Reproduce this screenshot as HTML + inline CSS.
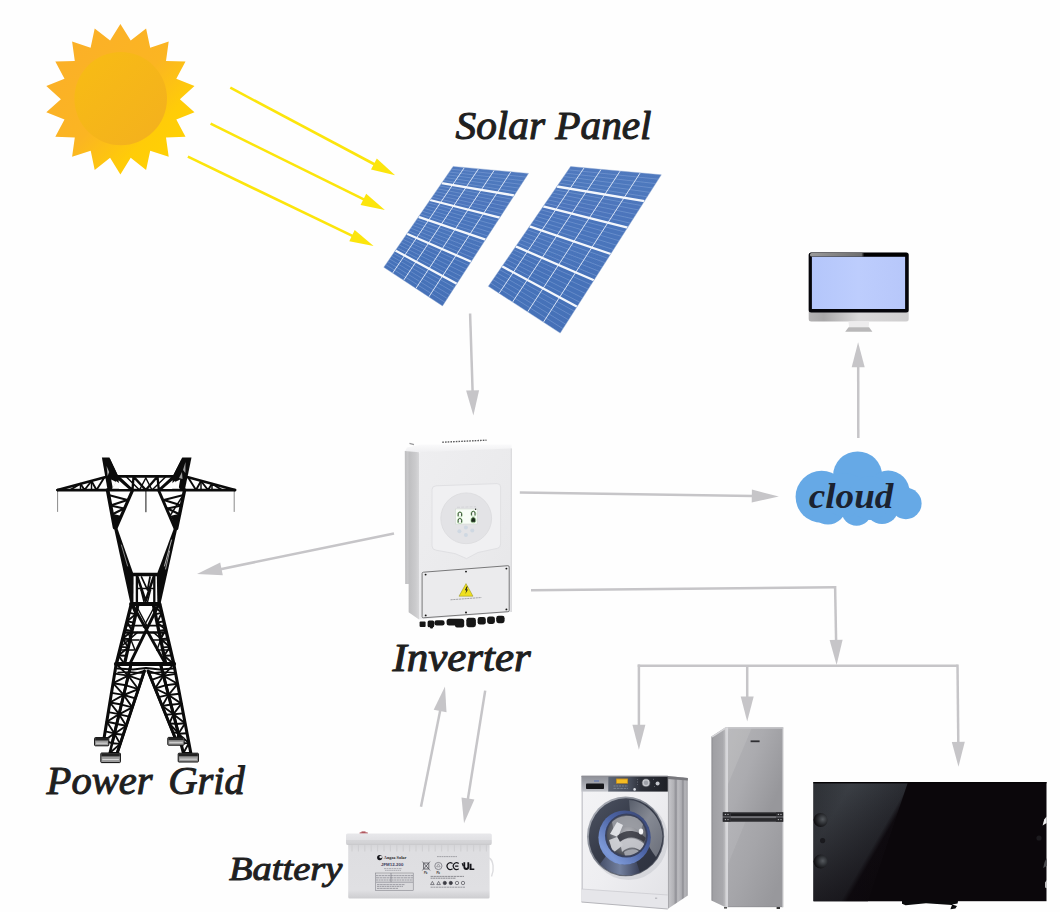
<!DOCTYPE html>
<html><head><meta charset="utf-8"><title>Solar system diagram</title>
<style>
html,body{margin:0;padding:0;background:#fefefe;}
body{width:1060px;height:912px;overflow:hidden;font-family:"Liberation Serif",serif;}
svg{display:block;}
</style></head><body>
<svg width="1060" height="912" viewBox="0 0 1060 912">
<rect width="1060" height="912" fill="#fefefe"/>
<!-- sun -->

<defs>
<linearGradient id="sunG" x1="0" y1="0" x2="1" y2="1">
<stop offset="0" stop-color="#FBAE2A"/><stop offset="0.5" stop-color="#FBB522"/><stop offset="0.72" stop-color="#FFCC08"/><stop offset="1" stop-color="#FFD500"/>
</linearGradient>
<linearGradient id="sunC" x1="0" y1="0" x2="1" y2="1">
<stop offset="0" stop-color="#F8BC14"/><stop offset="1" stop-color="#F3B01E"/>
</linearGradient>
</defs>
<path d="M120.4,24.0 L130.7,40.6 L146.1,28.5 L150.2,47.7 L168.7,41.6 L166.0,61.0 L185.5,61.6 L176.3,78.8 L194.5,86.1 L179.9,99.2 L194.5,112.3 L176.3,119.6 L185.5,136.8 L166.0,137.4 L168.7,156.8 L150.2,150.7 L146.1,169.9 L130.7,157.8 L120.4,174.4 L110.1,157.8 L94.7,169.9 L90.7,150.7 L72.1,156.8 L74.8,137.4 L55.3,136.8 L64.5,119.6 L46.3,112.3 L60.9,99.2 L46.3,86.1 L64.5,78.8 L55.3,61.6 L74.8,61.0 L72.1,41.6 L90.6,47.7 L94.7,28.5 L110.1,40.6Z" fill="url(#sunG)"/>
<ellipse cx="120.7" cy="98.60000000000001" rx="46.3" ry="46.6" fill="url(#sunC)"/>
<!-- yellow_arrows -->
<line x1="230.3" y1="87.7" x2="374.8" y2="164.5" stroke="#FCE50C" stroke-width="2.6"/><polygon points="395.1,175.3 371.0,169.6 376.8,158.5" fill="#FCE50C"/>
<line x1="210.6" y1="123.7" x2="364.3" y2="199.7" stroke="#FCE50C" stroke-width="2.6"/><polygon points="384.9,209.9 360.6,204.9 366.2,193.7" fill="#FCE50C"/>
<line x1="187.9" y1="156.7" x2="352.9" y2="236.1" stroke="#FCE50C" stroke-width="2.6"/><polygon points="373.6,246.1 349.3,241.3 354.7,230.1" fill="#FCE50C"/>
<!-- panels -->
<defs><clipPath id="clip1"><polygon points="453.1,166.4 528.5,173.4 442.5,305.9 383.8,267.3"/></clipPath><linearGradient id="pg1" gradientUnits="userSpaceOnUse" x1="453" y1="166" x2="442" y2="306"><stop offset="0" stop-color="#5079BE"/><stop offset="0.5" stop-color="#4A75BB"/><stop offset="1" stop-color="#4771B7"/></linearGradient></defs><polygon points="453.1,166.4 528.5,173.4 442.5,305.9 383.8,267.3" fill="url(#pg1)"/><g clip-path="url(#clip1)"><line x1="451.2" y1="169.2" x2="526.1" y2="177.1" stroke="#86A6DA" stroke-width="0.7" opacity="0.7"/><line x1="449.2" y1="172.0" x2="523.7" y2="180.8" stroke="#86A6DA" stroke-width="0.7" opacity="0.7"/><line x1="447.3" y1="174.8" x2="521.3" y2="184.4" stroke="#86A6DA" stroke-width="0.7" opacity="0.7"/><line x1="445.4" y1="177.6" x2="518.9" y2="188.1" stroke="#86A6DA" stroke-width="0.7" opacity="0.7"/><line x1="443.5" y1="180.4" x2="516.6" y2="191.8" stroke="#86A6DA" stroke-width="0.7" opacity="0.7"/><line x1="439.6" y1="186.0" x2="511.8" y2="199.2" stroke="#86A6DA" stroke-width="0.7" opacity="0.7"/><line x1="437.7" y1="188.8" x2="509.4" y2="202.8" stroke="#86A6DA" stroke-width="0.7" opacity="0.7"/><line x1="435.8" y1="191.6" x2="507.0" y2="206.5" stroke="#86A6DA" stroke-width="0.7" opacity="0.7"/><line x1="433.9" y1="194.4" x2="504.6" y2="210.2" stroke="#86A6DA" stroke-width="0.7" opacity="0.7"/><line x1="431.9" y1="197.2" x2="502.2" y2="213.9" stroke="#86A6DA" stroke-width="0.7" opacity="0.7"/><line x1="428.1" y1="202.8" x2="497.4" y2="221.2" stroke="#86A6DA" stroke-width="0.7" opacity="0.7"/><line x1="426.2" y1="205.6" x2="495.1" y2="224.9" stroke="#86A6DA" stroke-width="0.7" opacity="0.7"/><line x1="424.2" y1="208.4" x2="492.7" y2="228.6" stroke="#86A6DA" stroke-width="0.7" opacity="0.7"/><line x1="422.3" y1="211.2" x2="490.3" y2="232.3" stroke="#86A6DA" stroke-width="0.7" opacity="0.7"/><line x1="420.4" y1="214.0" x2="487.9" y2="236.0" stroke="#86A6DA" stroke-width="0.7" opacity="0.7"/><line x1="416.5" y1="219.7" x2="483.1" y2="243.3" stroke="#86A6DA" stroke-width="0.7" opacity="0.7"/><line x1="414.6" y1="222.5" x2="480.7" y2="247.0" stroke="#86A6DA" stroke-width="0.7" opacity="0.7"/><line x1="412.7" y1="225.3" x2="478.3" y2="250.7" stroke="#86A6DA" stroke-width="0.7" opacity="0.7"/><line x1="410.8" y1="228.1" x2="475.9" y2="254.4" stroke="#86A6DA" stroke-width="0.7" opacity="0.7"/><line x1="408.8" y1="230.9" x2="473.6" y2="258.1" stroke="#86A6DA" stroke-width="0.7" opacity="0.7"/><line x1="405.0" y1="236.5" x2="468.8" y2="265.4" stroke="#86A6DA" stroke-width="0.7" opacity="0.7"/><line x1="403.1" y1="239.3" x2="466.4" y2="269.1" stroke="#86A6DA" stroke-width="0.7" opacity="0.7"/><line x1="401.1" y1="242.1" x2="464.0" y2="272.8" stroke="#86A6DA" stroke-width="0.7" opacity="0.7"/><line x1="399.2" y1="244.9" x2="461.6" y2="276.5" stroke="#86A6DA" stroke-width="0.7" opacity="0.7"/><line x1="397.3" y1="247.7" x2="459.2" y2="280.1" stroke="#86A6DA" stroke-width="0.7" opacity="0.7"/><line x1="393.4" y1="253.3" x2="454.4" y2="287.5" stroke="#86A6DA" stroke-width="0.7" opacity="0.7"/><line x1="391.5" y1="256.1" x2="452.1" y2="291.2" stroke="#86A6DA" stroke-width="0.7" opacity="0.7"/><line x1="389.6" y1="258.9" x2="449.7" y2="294.9" stroke="#86A6DA" stroke-width="0.7" opacity="0.7"/><line x1="387.7" y1="261.7" x2="447.3" y2="298.5" stroke="#86A6DA" stroke-width="0.7" opacity="0.7"/><line x1="385.7" y1="264.5" x2="444.9" y2="302.2" stroke="#86A6DA" stroke-width="0.7" opacity="0.7"/><line x1="464.4" y1="167.5" x2="392.6" y2="273.1" stroke="#E6EEFA" stroke-width="0.9"/><line x1="478.5" y1="168.8" x2="403.6" y2="280.3" stroke="#E6EEFA" stroke-width="0.9"/><line x1="494.3" y1="170.2" x2="415.9" y2="288.4" stroke="#E6EEFA" stroke-width="0.9"/><line x1="510.9" y1="171.8" x2="428.8" y2="296.9" stroke="#E6EEFA" stroke-width="0.9"/><line x1="441.6" y1="183.2" x2="514.2" y2="195.5" stroke="#F4F7FC" stroke-width="2.3"/><line x1="430.0" y1="200.0" x2="499.8" y2="217.6" stroke="#F4F7FC" stroke-width="2.3"/><line x1="418.5" y1="216.9" x2="485.5" y2="239.6" stroke="#F4F7FC" stroke-width="2.3"/><line x1="406.9" y1="233.7" x2="471.2" y2="261.7" stroke="#F4F7FC" stroke-width="2.3"/><line x1="395.4" y1="250.5" x2="456.8" y2="283.8" stroke="#F4F7FC" stroke-width="2.3"/></g><polygon points="453.1,166.4 528.5,173.4 442.5,305.9 383.8,267.3" fill="none" stroke="#8FA9D4" stroke-width="0.6" opacity="0.7"/>
<defs><clipPath id="clip2"><polygon points="570.6,166.5 661.3,174.8 560.2,333.1 488.3,286.3"/></clipPath><linearGradient id="pg2" gradientUnits="userSpaceOnUse" x1="571" y1="166" x2="560" y2="333"><stop offset="0" stop-color="#5079BE"/><stop offset="0.5" stop-color="#4A75BB"/><stop offset="1" stop-color="#4771B7"/></linearGradient></defs><polygon points="570.6,166.5 661.3,174.8 560.2,333.1 488.3,286.3" fill="url(#pg2)"/><g clip-path="url(#clip2)"><line x1="568.3" y1="169.8" x2="658.5" y2="179.2" stroke="#86A6DA" stroke-width="0.7" opacity="0.7"/><line x1="566.0" y1="173.2" x2="655.7" y2="183.6" stroke="#86A6DA" stroke-width="0.7" opacity="0.7"/><line x1="563.7" y1="176.5" x2="652.9" y2="188.0" stroke="#86A6DA" stroke-width="0.7" opacity="0.7"/><line x1="561.5" y1="179.8" x2="650.1" y2="192.4" stroke="#86A6DA" stroke-width="0.7" opacity="0.7"/><line x1="559.2" y1="183.1" x2="647.3" y2="196.8" stroke="#86A6DA" stroke-width="0.7" opacity="0.7"/><line x1="554.6" y1="189.8" x2="641.6" y2="205.6" stroke="#86A6DA" stroke-width="0.7" opacity="0.7"/><line x1="552.3" y1="193.1" x2="638.8" y2="210.0" stroke="#86A6DA" stroke-width="0.7" opacity="0.7"/><line x1="550.0" y1="196.4" x2="636.0" y2="214.4" stroke="#86A6DA" stroke-width="0.7" opacity="0.7"/><line x1="547.7" y1="199.8" x2="633.2" y2="218.8" stroke="#86A6DA" stroke-width="0.7" opacity="0.7"/><line x1="545.5" y1="203.1" x2="630.4" y2="223.2" stroke="#86A6DA" stroke-width="0.7" opacity="0.7"/><line x1="540.9" y1="209.8" x2="624.8" y2="232.0" stroke="#86A6DA" stroke-width="0.7" opacity="0.7"/><line x1="538.6" y1="213.1" x2="622.0" y2="236.4" stroke="#86A6DA" stroke-width="0.7" opacity="0.7"/><line x1="536.3" y1="216.4" x2="619.2" y2="240.8" stroke="#86A6DA" stroke-width="0.7" opacity="0.7"/><line x1="534.0" y1="219.7" x2="616.4" y2="245.2" stroke="#86A6DA" stroke-width="0.7" opacity="0.7"/><line x1="531.7" y1="223.1" x2="613.6" y2="249.6" stroke="#86A6DA" stroke-width="0.7" opacity="0.7"/><line x1="527.2" y1="229.7" x2="607.9" y2="258.3" stroke="#86A6DA" stroke-width="0.7" opacity="0.7"/><line x1="524.9" y1="233.1" x2="605.1" y2="262.7" stroke="#86A6DA" stroke-width="0.7" opacity="0.7"/><line x1="522.6" y1="236.4" x2="602.3" y2="267.1" stroke="#86A6DA" stroke-width="0.7" opacity="0.7"/><line x1="520.3" y1="239.7" x2="599.5" y2="271.5" stroke="#86A6DA" stroke-width="0.7" opacity="0.7"/><line x1="518.0" y1="243.0" x2="596.7" y2="275.9" stroke="#86A6DA" stroke-width="0.7" opacity="0.7"/><line x1="513.4" y1="249.7" x2="591.1" y2="284.7" stroke="#86A6DA" stroke-width="0.7" opacity="0.7"/><line x1="511.2" y1="253.0" x2="588.3" y2="289.1" stroke="#86A6DA" stroke-width="0.7" opacity="0.7"/><line x1="508.9" y1="256.4" x2="585.5" y2="293.5" stroke="#86A6DA" stroke-width="0.7" opacity="0.7"/><line x1="506.6" y1="259.7" x2="582.7" y2="297.9" stroke="#86A6DA" stroke-width="0.7" opacity="0.7"/><line x1="504.3" y1="263.0" x2="579.9" y2="302.3" stroke="#86A6DA" stroke-width="0.7" opacity="0.7"/><line x1="499.7" y1="269.7" x2="574.2" y2="311.1" stroke="#86A6DA" stroke-width="0.7" opacity="0.7"/><line x1="497.4" y1="273.0" x2="571.4" y2="315.5" stroke="#86A6DA" stroke-width="0.7" opacity="0.7"/><line x1="495.2" y1="276.3" x2="568.6" y2="319.9" stroke="#86A6DA" stroke-width="0.7" opacity="0.7"/><line x1="492.9" y1="279.6" x2="565.8" y2="324.3" stroke="#86A6DA" stroke-width="0.7" opacity="0.7"/><line x1="490.6" y1="283.0" x2="563.0" y2="328.7" stroke="#86A6DA" stroke-width="0.7" opacity="0.7"/><line x1="584.2" y1="167.7" x2="499.1" y2="293.3" stroke="#E6EEFA" stroke-width="0.9"/><line x1="601.2" y1="169.3" x2="512.5" y2="302.1" stroke="#E6EEFA" stroke-width="0.9"/><line x1="620.2" y1="171.0" x2="527.6" y2="311.9" stroke="#E6EEFA" stroke-width="0.9"/><line x1="640.2" y1="172.9" x2="543.4" y2="322.2" stroke="#E6EEFA" stroke-width="0.9"/><line x1="556.9" y1="186.5" x2="644.4" y2="201.2" stroke="#F4F7FC" stroke-width="2.3"/><line x1="543.2" y1="206.4" x2="627.6" y2="227.6" stroke="#F4F7FC" stroke-width="2.3"/><line x1="529.5" y1="226.4" x2="610.8" y2="254.0" stroke="#F4F7FC" stroke-width="2.3"/><line x1="515.7" y1="246.4" x2="593.9" y2="280.3" stroke="#F4F7FC" stroke-width="2.3"/><line x1="502.0" y1="266.3" x2="577.1" y2="306.7" stroke="#F4F7FC" stroke-width="2.3"/></g><polygon points="570.6,166.5 661.3,174.8 560.2,333.1 488.3,286.3" fill="none" stroke="#8FA9D4" stroke-width="0.6" opacity="0.7"/>
<!-- gray_arrows -->
<line x1="470.1" y1="313.5" x2="472.6" y2="391.4" stroke="#C6C5C8" stroke-width="2.5"/><polygon points="473.4,415.4 466.1,390.6 479.1,390.2" fill="#C6C5C8"/>
<line x1="519.8" y1="492.5" x2="752.8" y2="496.1" stroke="#C6C5C8" stroke-width="2.5"/><polygon points="778.8,496.5 751.7,502.6 751.9,489.6" fill="#C6C5C8"/>
<line x1="394.0" y1="533.5" x2="220.5" y2="569.2" stroke="#C6C5C8" stroke-width="2.5"/><polygon points="197.0,574.0 220.2,562.6 222.8,575.3" fill="#C6C5C8"/>
<line x1="858.3" y1="438.0" x2="858.2" y2="366.3" stroke="#C6C5C8" stroke-width="2.5"/><polygon points="858.1,342.3 864.7,367.3 851.7,367.3" fill="#C6C5C8"/>
<line x1="421.0" y1="806.7" x2="440.3" y2="710.0" stroke="#C6C5C8" stroke-width="2.5"/><polygon points="445.0,686.5 446.5,712.3 433.7,709.7" fill="#C6C5C8"/>
<line x1="485.2" y1="690.6" x2="467.8" y2="799.6" stroke="#C6C5C8" stroke-width="2.5"/><polygon points="464.0,823.3 461.5,797.6 474.4,799.6" fill="#C6C5C8"/>
<polyline points="531,590.2 835.1,587.2" fill="none" stroke="#C6C5C8" stroke-width="2.5"/><line x1="835.1" y1="586.0" x2="836.1" y2="640.9" stroke="#C6C5C8" stroke-width="2.5"/><polygon points="836.6,664.9 829.6,640.0 842.6,639.8" fill="#C6C5C8"/>
<polyline points="637.7,665.7 957.6,665.7" fill="none" stroke="#C6C5C8" stroke-width="2.6"/><line x1="638.9" y1="664.5" x2="638.9" y2="725.8" stroke="#C6C5C8" stroke-width="2.5"/><polygon points="638.9,749.8 632.4,724.8 645.4,724.8" fill="#C6C5C8"/>
<line x1="747.2" y1="665.0" x2="747.2" y2="697.5" stroke="#C6C5C8" stroke-width="2.5"/><polygon points="747.2,721.5 740.7,696.5 753.7,696.5" fill="#C6C5C8"/>
<line x1="957.5" y1="664.5" x2="958.3" y2="742.8" stroke="#C6C5C8" stroke-width="2.5"/><polygon points="958.5,766.8 951.8,741.9 964.8,741.7" fill="#C6C5C8"/>
<!-- inverter -->

<defs>
<linearGradient id="invSide" x1="0" y1="0" x2="1" y2="0">
<stop offset="0" stop-color="#BDBDBF"/><stop offset="0.22" stop-color="#C9C9CB"/><stop offset="0.3" stop-color="#BFBFC1"/><stop offset="0.75" stop-color="#CBCBCD"/><stop offset="1" stop-color="#D6D6D8"/>
</linearGradient>
<linearGradient id="invFront" x1="0" y1="0" x2="1" y2="1">
<stop offset="0" stop-color="#EEEEF0"/><stop offset="0.6" stop-color="#EAEAEC"/><stop offset="1" stop-color="#E6E6E8"/>
</linearGradient>
<linearGradient id="invTop" x1="0" y1="0" x2="0" y2="1">
<stop offset="0" stop-color="#FAFAFB"/><stop offset="1" stop-color="#EFEFF1"/>
</linearGradient>
</defs>
<!-- top face hint -->
<polygon points="407,447.5 421,444.6 511.6,444.4 511.6,449 419,452.4 405,451.3" fill="url(#invTop)"/>
<!-- vent dots on top -->
<line x1="442.3" y1="442.2" x2="486.5" y2="440.2" stroke="#59595b" stroke-width="1.4" stroke-dasharray="1.6 1.1"/>
<line x1="409.5" y1="443.4" x2="414" y2="444.6" stroke="#9a9a9c" stroke-width="1.2"/>
<!-- left side -->
<polygon points="404.8,451 419,452.2 419,619.5 408.6,612.3 408.6,584 405.2,584" fill="url(#invSide)"/>
<!-- front -->
<path d="M419,453.5 Q419,452 421,451.9 L511.6,448.4 L511.6,612 L419,619.5 Z" fill="url(#invFront)"/>
<!-- right soft edge -->
<line x1="511.3" y1="448.6" x2="511.3" y2="612" stroke="#DADADC" stroke-width="1.2"/>
<!-- shield shape -->
<path d="M436,485.8 L497,483.6 Q500.6,483.6 500.6,487 L500.6,544 Q500.6,547.5 497.5,548.3 L478,552.5 L466.5,558.6 L455,553.6 L436,550.2 Q432,549.6 432,546 L432,489.6 Q432,486 436,485.8 Z" fill="#F0F0F2" stroke="#E0E0E3" stroke-width="1"/>
<!-- display circle -->
<circle cx="466.2" cy="518.3" r="25.4" fill="#E3E3E6" stroke="#DADADD" stroke-width="0.8"/>
<rect x="455.7" y="509" width="21.5" height="15" fill="#F7FCF6" stroke="#CDD6CD" stroke-width="0.5"/>
<g fill="none" stroke="#1d2b1d" stroke-width="0.9">
<path d="M458.2,516.2 v-2.4 a1.7,1.7 0 0 1 3.4,0 v2.4"/>
<path d="M458.2,522.6 v-2.4 a1.7,1.7 0 0 1 3.4,0 v2.4"/>
<path d="M471.6,515.4 v-2.4 a1.7,1.7 0 0 1 3.4,0 v2.4"/>
<path d="M471.6,521.8 v-2.4 a1.7,1.7 0 0 1 3.4,0 v2.4 z" fill="#1d2b1d"/>
</g>
<g fill="none" stroke="#6DBB5C" stroke-width="0.5" opacity="0.8">
<circle cx="459.9" cy="514.6" r="2.6"/><circle cx="459.9" cy="521" r="2.6"/><circle cx="473.3" cy="513.8" r="2.6"/><circle cx="473.3" cy="520.2" r="2.6"/>
</g>
<circle cx="475.6" cy="509.3" r="0.7" fill="#222"/>
<line x1="457" y1="507.3" x2="476" y2="506.7" stroke="#CFCFD3" stroke-width="0.8" stroke-dasharray="3 1.2"/>
<g fill="#CFD8E2">
<circle cx="459.4" cy="531.2" r="2"/><circle cx="465.9" cy="527.6" r="2"/><circle cx="472.3" cy="530.6" r="2"/><circle cx="465.9" cy="534.9" r="2"/>
</g>
<!-- lower cover -->
<path d="M423.4,572.2 L507.8,565.7 Q509.2,565.6 509.2,567 L509.2,610.4 Q509.2,611.6 507.9,611.7 L423.4,617.8 Q422.1,617.9 422.1,616.6 L422.1,573.5 Q422.1,572.3 423.4,572.2 Z" fill="#EBEBED" stroke="#5a5a5c" stroke-width="0.8"/>
<g fill="#111">
<circle cx="425.6" cy="574.6" r="0.95"/><circle cx="466" cy="571.6" r="0.95"/><circle cx="506.4" cy="568.6" r="0.95"/>
<circle cx="425.7" cy="615.4" r="0.95"/><circle cx="466" cy="612.5" r="0.95"/><circle cx="506.4" cy="609.4" r="0.95"/>
</g>
<!-- warning triangle -->
<polygon points="466,583.6 473,596.2 459,596.2" fill="#EFE01E" stroke="#8f8a20" stroke-width="0.5" stroke-linejoin="round"/>
<path d="M466.6,586.6 l-1.7,3.6 h1.5 l-1.1,3.9 l2.7,-4.7 h-1.5 l1.2,-2.8 z" fill="#1a1a1a"/>
<line x1="450.5" y1="599.8" x2="481.5" y2="597.5" stroke="#9c9c9f" stroke-width="0.9" stroke-dasharray="2.2 0.6"/>
<!-- connectors -->
<g fill="#161616">
<rect x="419.6" y="621.4" width="6" height="5.6" rx="1"/>
<rect x="427.6" y="620.6" width="6.6" height="6.6" rx="1.5"/>
<rect x="430" y="625" width="3" height="3.4" rx="1"/>
<rect x="434.4" y="620.2" width="10.2" height="5.4" rx="2.3"/>
<rect x="446.6" y="618.8" width="17.6" height="6.8" rx="2.5"/>
<rect x="455" y="622" width="9.2" height="5.4" rx="2"/>
<rect x="466.3" y="617.8" width="9.6" height="9.4" rx="2.4"/>
<rect x="477.6" y="617" width="8.2" height="7.6" rx="2.4"/>
<rect x="487.1" y="616.4" width="7.8" height="7.6" rx="2.4"/>
<rect x="496.2" y="615.8" width="8.4" height="7.4" rx="2.4"/>
</g>
<!-- tower -->
<g><line x1="57.6" y1="490.0" x2="57.6" y2="511.5" stroke="#8a8a8a" stroke-width="1.00" stroke-linecap="round"/><line x1="145.9" y1="490.0" x2="145.9" y2="511.8" stroke="#2a2a2a" stroke-width="1.10" stroke-linecap="round"/><line x1="234.2" y1="490.0" x2="234.2" y2="511.5" stroke="#8a8a8a" stroke-width="1.00" stroke-linecap="round"/><line x1="57.5" y1="490.0" x2="235.0" y2="490.0" stroke="#0b0b0b" stroke-width="2.75" stroke-linecap="round"/><line x1="57.5" y1="490.0" x2="105.8" y2="477.0" stroke="#0b0b0b" stroke-width="2.46" stroke-linecap="round"/><polyline points="70.0,490.0 80.5,483.8 84.5,490.0 91.5,481.0 96.5,490.0 104.0,478.0" fill="none" stroke="#0b0b0b" stroke-width="1.89" stroke-linejoin="round" stroke-linecap="round"/><line x1="80.5" y1="483.8" x2="80.5" y2="490.0" stroke="#0b0b0b" stroke-width="1.45" stroke-linecap="round"/><line x1="91.5" y1="481.0" x2="91.5" y2="490.0" stroke="#0b0b0b" stroke-width="1.45" stroke-linecap="round"/><line x1="235.0" y1="490.0" x2="187.2" y2="477.0" stroke="#0b0b0b" stroke-width="2.46" stroke-linecap="round"/><polyline points="222.0,490.0 212.0,483.8 208.0,490.0 201.0,481.0 196.0,490.0 188.5,478.0" fill="none" stroke="#0b0b0b" stroke-width="1.89" stroke-linejoin="round" stroke-linecap="round"/><line x1="212.0" y1="483.8" x2="212.0" y2="490.0" stroke="#0b0b0b" stroke-width="1.45" stroke-linecap="round"/><line x1="201.0" y1="481.0" x2="201.0" y2="490.0" stroke="#0b0b0b" stroke-width="1.45" stroke-linecap="round"/><line x1="116.0" y1="476.4" x2="175.0" y2="476.4" stroke="#0b0b0b" stroke-width="2.90" stroke-linecap="round"/><polyline points="118.0,476.6 132.5,490.0 133.5,476.6 145.8,490.0 157.5,476.6 158.8,490.0 173.5,476.6" fill="none" stroke="#0b0b0b" stroke-width="2.32" stroke-linejoin="round" stroke-linecap="round"/><polyline points="126.0,476.6 139.5,490.0 145.8,478.0" fill="none" stroke="#0b0b0b" stroke-width="1.45" stroke-linejoin="round" stroke-linecap="round"/><polyline points="145.8,478.0 152.0,490.0 166.0,476.6" fill="none" stroke="#0b0b0b" stroke-width="1.45" stroke-linejoin="round" stroke-linecap="round"/><polygon points="101.9,457.6 109.4,457.6 118.6,477 111.5,490 107.6,490" fill="#0b0b0b"/><polygon points="109.4,457.6 118.6,477 132.8,490.4 128,490.4 115,480" fill="#0b0b0b"/><polygon points="111.2,479.5 116.2,482 112.8,488.6" fill="#fefefe"/><polygon points="118.6,480.2 128.6,489 119,489" fill="#fefefe"/><polygon points="106.6,466 109.2,472 107.6,476" fill="#fefefe" opacity="0.7"/><polyline points="107.6,490.0 114.6,527.5" fill="none" stroke="#0b0b0b" stroke-width="3.77" stroke-linejoin="round" stroke-linecap="round"/><polyline points="132.6,490.2 116.2,527.5" fill="none" stroke="#0b0b0b" stroke-width="3.19" stroke-linejoin="round" stroke-linecap="round"/><line x1="108.5" y1="495.0" x2="127.5" y2="500.0" stroke="#0b0b0b" stroke-width="2.03" stroke-linecap="round"/><line x1="127.5" y1="500.0" x2="110.5" y2="505.5" stroke="#0b0b0b" stroke-width="2.32" stroke-linecap="round"/><line x1="110.5" y1="505.5" x2="124.0" y2="508.5" stroke="#0b0b0b" stroke-width="1.89" stroke-linecap="round"/><line x1="124.0" y1="508.5" x2="112.0" y2="514.5" stroke="#0b0b0b" stroke-width="2.17" stroke-linecap="round"/><line x1="112.0" y1="514.5" x2="120.5" y2="516.5" stroke="#0b0b0b" stroke-width="1.74" stroke-linecap="round"/><polygon points="112.6,515 120.6,516.6 115.4,528 114.2,527" fill="#0b0b0b"/><polygon points="191.5,457.6 182.3,457.6 172.4,477 180.5,490 184.8,490" fill="#0b0b0b"/><polygon points="182.3,457.6 172.4,477 158.4,490.4 163.4,490.4 176,480" fill="#0b0b0b"/><polygon points="180.2,479.5 175,482 178.6,488.6" fill="#fefefe"/><polygon points="172.6,480.2 162.6,489 172.2,489" fill="#fefefe"/><polygon points="185.5,462 183,470 185.4,473" fill="#fefefe" opacity="0.6"/><polygon points="182,472 179,478 182.5,479" fill="#fefefe" opacity="0.6"/><polyline points="184.6,490.0 176.6,528.5" fill="none" stroke="#0b0b0b" stroke-width="3.48" stroke-linejoin="round" stroke-linecap="round"/><polyline points="158.6,490.2 175.0,528.5" fill="none" stroke="#0b0b0b" stroke-width="2.90" stroke-linejoin="round" stroke-linecap="round"/><line x1="183.6" y1="495.0" x2="163.8" y2="500.0" stroke="#0b0b0b" stroke-width="2.03" stroke-linecap="round"/><line x1="163.8" y1="500.0" x2="181.6" y2="505.5" stroke="#0b0b0b" stroke-width="2.32" stroke-linecap="round"/><line x1="181.6" y1="505.5" x2="167.5" y2="508.5" stroke="#0b0b0b" stroke-width="1.89" stroke-linecap="round"/><line x1="167.5" y1="508.5" x2="180.0" y2="514.5" stroke="#0b0b0b" stroke-width="2.17" stroke-linecap="round"/><line x1="180.0" y1="514.5" x2="171.0" y2="516.5" stroke="#0b0b0b" stroke-width="1.74" stroke-linecap="round"/><line x1="182.0" y1="497.0" x2="170.5" y2="515.0" stroke="#0b0b0b" stroke-width="1.45" stroke-linecap="round"/><polygon points="179.4,515 171.2,516.6 175.6,529 177,528" fill="#0b0b0b"/><polygon points="113.6,526 116.6,526 133.6,574.4 133.4,604.2 130.6,604.2" fill="#0b0b0b"/><polygon points="177.6,527 174.4,527 156.8,574.4 157.4,604.2 160.4,604.2" fill="#0b0b0b"/><line x1="171.5" y1="540.0" x2="164.5" y2="566.0" stroke="#fefefe" stroke-width="0.70" stroke-linecap="round"/><line x1="169.6" y1="551.0" x2="165.6" y2="569.0" stroke="#fefefe" stroke-width="0.60" stroke-linecap="round"/><line x1="121.4" y1="545.0" x2="127.6" y2="566.0" stroke="#fefefe" stroke-width="0.50" stroke-linecap="round"/><line x1="132.8" y1="574.6" x2="157.4" y2="574.6" stroke="#0b0b0b" stroke-width="3.48" stroke-linecap="round"/><line x1="131.0" y1="604.0" x2="159.4" y2="604.0" stroke="#0b0b0b" stroke-width="3.77" stroke-linecap="round"/><line x1="136.9" y1="575.0" x2="136.9" y2="604.0" stroke="#0b0b0b" stroke-width="2.32" stroke-linecap="round"/><line x1="154.3" y1="575.0" x2="154.3" y2="604.0" stroke="#0b0b0b" stroke-width="2.32" stroke-linecap="round"/><polyline points="137.5,577.0 145.6,601.0 153.6,577.0" fill="none" stroke="#0b0b0b" stroke-width="2.46" stroke-linejoin="round" stroke-linecap="round"/><polyline points="141.5,577.0 147.5,590.0 150.0,577.0" fill="none" stroke="#0b0b0b" stroke-width="1.74" stroke-linejoin="round" stroke-linecap="round"/><line x1="138.0" y1="588.5" x2="153.5" y2="588.5" stroke="#0b0b0b" stroke-width="1.74" stroke-linecap="round"/><line x1="141.0" y1="590.0" x2="144.0" y2="602.0" stroke="#0b0b0b" stroke-width="1.45" stroke-linecap="round"/><line x1="150.5" y1="590.0" x2="147.5" y2="602.0" stroke="#0b0b0b" stroke-width="1.45" stroke-linecap="round"/><polyline points="131.3,604.2 116.3,664.0" fill="none" stroke="#0b0b0b" stroke-width="3.33" stroke-linejoin="round" stroke-linecap="round"/><polyline points="137.6,606.0 124.5,664.0" fill="none" stroke="#0b0b0b" stroke-width="3.33" stroke-linejoin="round" stroke-linecap="round"/><line x1="131.3" y1="604.2" x2="135.7" y2="614.3" stroke="#0b0b0b" stroke-width="1.89" stroke-linecap="round"/><line x1="129.2" y1="612.7" x2="135.7" y2="614.3" stroke="#0b0b0b" stroke-width="1.89" stroke-linecap="round"/><line x1="135.7" y1="614.3" x2="127.0" y2="621.3" stroke="#0b0b0b" stroke-width="1.89" stroke-linecap="round"/><line x1="127.0" y1="621.3" x2="133.9" y2="622.6" stroke="#0b0b0b" stroke-width="1.89" stroke-linecap="round"/><line x1="127.0" y1="621.3" x2="132.0" y2="630.9" stroke="#0b0b0b" stroke-width="1.89" stroke-linecap="round"/><line x1="124.9" y1="629.8" x2="132.0" y2="630.9" stroke="#0b0b0b" stroke-width="1.89" stroke-linecap="round"/><line x1="132.0" y1="630.9" x2="122.7" y2="638.4" stroke="#0b0b0b" stroke-width="1.89" stroke-linecap="round"/><line x1="122.7" y1="638.4" x2="130.1" y2="639.1" stroke="#0b0b0b" stroke-width="1.89" stroke-linecap="round"/><line x1="122.7" y1="638.4" x2="128.2" y2="647.4" stroke="#0b0b0b" stroke-width="1.89" stroke-linecap="round"/><line x1="120.6" y1="646.9" x2="128.2" y2="647.4" stroke="#0b0b0b" stroke-width="1.89" stroke-linecap="round"/><line x1="128.2" y1="647.4" x2="118.4" y2="655.5" stroke="#0b0b0b" stroke-width="1.89" stroke-linecap="round"/><line x1="118.4" y1="655.5" x2="126.4" y2="655.7" stroke="#0b0b0b" stroke-width="1.89" stroke-linecap="round"/><line x1="118.4" y1="655.5" x2="124.5" y2="664.0" stroke="#0b0b0b" stroke-width="1.89" stroke-linecap="round"/><line x1="116.3" y1="664.0" x2="124.5" y2="664.0" stroke="#0b0b0b" stroke-width="1.89" stroke-linecap="round"/><polyline points="159.8,604.2 173.8,664.0" fill="none" stroke="#0b0b0b" stroke-width="3.33" stroke-linejoin="round" stroke-linecap="round"/><polyline points="153.6,606.0 165.8,664.0" fill="none" stroke="#0b0b0b" stroke-width="3.33" stroke-linejoin="round" stroke-linecap="round"/><line x1="153.6" y1="606.0" x2="161.8" y2="612.7" stroke="#0b0b0b" stroke-width="1.89" stroke-linecap="round"/><line x1="161.8" y1="612.7" x2="155.3" y2="614.3" stroke="#0b0b0b" stroke-width="1.89" stroke-linecap="round"/><line x1="161.8" y1="612.7" x2="157.1" y2="622.6" stroke="#0b0b0b" stroke-width="1.89" stroke-linecap="round"/><line x1="163.8" y1="621.3" x2="157.1" y2="622.6" stroke="#0b0b0b" stroke-width="1.89" stroke-linecap="round"/><line x1="157.1" y1="622.6" x2="165.8" y2="629.8" stroke="#0b0b0b" stroke-width="1.89" stroke-linecap="round"/><line x1="165.8" y1="629.8" x2="158.8" y2="630.9" stroke="#0b0b0b" stroke-width="1.89" stroke-linecap="round"/><line x1="165.8" y1="629.8" x2="160.6" y2="639.1" stroke="#0b0b0b" stroke-width="1.89" stroke-linecap="round"/><line x1="167.8" y1="638.4" x2="160.6" y2="639.1" stroke="#0b0b0b" stroke-width="1.89" stroke-linecap="round"/><line x1="160.6" y1="639.1" x2="169.8" y2="646.9" stroke="#0b0b0b" stroke-width="1.89" stroke-linecap="round"/><line x1="169.8" y1="646.9" x2="162.3" y2="647.4" stroke="#0b0b0b" stroke-width="1.89" stroke-linecap="round"/><line x1="169.8" y1="646.9" x2="164.1" y2="655.7" stroke="#0b0b0b" stroke-width="1.89" stroke-linecap="round"/><line x1="171.8" y1="655.5" x2="164.1" y2="655.7" stroke="#0b0b0b" stroke-width="1.89" stroke-linecap="round"/><line x1="164.1" y1="655.7" x2="173.8" y2="664.0" stroke="#0b0b0b" stroke-width="1.89" stroke-linecap="round"/><line x1="173.8" y1="664.0" x2="165.8" y2="664.0" stroke="#0b0b0b" stroke-width="1.89" stroke-linecap="round"/><line x1="133.2" y1="606.0" x2="165.4" y2="663.6" stroke="#0b0b0b" stroke-width="2.90" stroke-linecap="round"/><line x1="158.0" y1="606.0" x2="130.0" y2="663.6" stroke="#0b0b0b" stroke-width="2.90" stroke-linecap="round"/><line x1="136.5" y1="606.0" x2="147.5" y2="627.0" stroke="#0b0b0b" stroke-width="1.45" stroke-linecap="round"/><line x1="154.8" y1="606.0" x2="143.5" y2="627.0" stroke="#0b0b0b" stroke-width="1.45" stroke-linecap="round"/><line x1="127.4" y1="625.6" x2="164.0" y2="625.6" stroke="#0b0b0b" stroke-width="1.89" stroke-linecap="round"/><line x1="125.4" y1="632.4" x2="166.0" y2="632.4" stroke="#0b0b0b" stroke-width="2.46" stroke-linecap="round"/><line x1="124.0" y1="640.0" x2="139.0" y2="640.0" stroke="#0b0b0b" stroke-width="1.59" stroke-linecap="round"/><line x1="152.0" y1="640.0" x2="168.0" y2="640.0" stroke="#0b0b0b" stroke-width="1.59" stroke-linecap="round"/><line x1="121.0" y1="650.0" x2="134.0" y2="650.0" stroke="#0b0b0b" stroke-width="1.59" stroke-linecap="round"/><line x1="157.0" y1="650.0" x2="170.5" y2="650.0" stroke="#0b0b0b" stroke-width="1.59" stroke-linecap="round"/><line x1="123.0" y1="645.0" x2="137.5" y2="632.4" stroke="#0b0b0b" stroke-width="1.45" stroke-linecap="round"/><line x1="168.0" y1="645.0" x2="153.5" y2="632.4" stroke="#0b0b0b" stroke-width="1.45" stroke-linecap="round"/><line x1="128.0" y1="632.4" x2="135.0" y2="650.0" stroke="#0b0b0b" stroke-width="1.45" stroke-linecap="round"/><line x1="163.0" y1="632.4" x2="157.0" y2="650.0" stroke="#0b0b0b" stroke-width="1.45" stroke-linecap="round"/><line x1="115.8" y1="664.0" x2="174.2" y2="664.0" stroke="#0b0b0b" stroke-width="3.77" stroke-linecap="round"/><polyline points="117.5,668.6 133.0,669.4 146.0,668.0 160.0,669.6 173.5,668.4" fill="none" stroke="#0b0b0b" stroke-width="2.03" stroke-linejoin="round" stroke-linecap="round"/><polyline points="118.0,672.5 130.0,672.0 144.0,673.2" fill="none" stroke="#0b0b0b" stroke-width="1.45" stroke-linejoin="round" stroke-linecap="round"/><polyline points="149.0,673.2 162.0,672.0 174.5,672.6" fill="none" stroke="#0b0b0b" stroke-width="1.45" stroke-linejoin="round" stroke-linecap="round"/><polyline points="116.2,664.0 103.6,741.0" fill="none" stroke="#0b0b0b" stroke-width="3.04" stroke-linejoin="round" stroke-linecap="round"/><polyline points="130.6,666.0 112.2,743.0" fill="none" stroke="#0b0b0b" stroke-width="3.04" stroke-linejoin="round" stroke-linecap="round"/><line x1="116.2" y1="664.0" x2="128.3" y2="675.6" stroke="#0b0b0b" stroke-width="1.89" stroke-linecap="round"/><line x1="114.6" y1="673.6" x2="128.3" y2="675.6" stroke="#0b0b0b" stroke-width="1.89" stroke-linecap="round"/><line x1="128.3" y1="675.6" x2="113.0" y2="683.2" stroke="#0b0b0b" stroke-width="1.89" stroke-linecap="round"/><line x1="113.0" y1="683.2" x2="126.0" y2="685.2" stroke="#0b0b0b" stroke-width="1.89" stroke-linecap="round"/><line x1="113.0" y1="683.2" x2="123.7" y2="694.9" stroke="#0b0b0b" stroke-width="1.89" stroke-linecap="round"/><line x1="111.5" y1="692.9" x2="123.7" y2="694.9" stroke="#0b0b0b" stroke-width="1.89" stroke-linecap="round"/><line x1="123.7" y1="694.9" x2="109.9" y2="702.5" stroke="#0b0b0b" stroke-width="1.89" stroke-linecap="round"/><line x1="109.9" y1="702.5" x2="121.4" y2="704.5" stroke="#0b0b0b" stroke-width="1.89" stroke-linecap="round"/><line x1="109.9" y1="702.5" x2="119.1" y2="714.1" stroke="#0b0b0b" stroke-width="1.89" stroke-linecap="round"/><line x1="108.3" y1="712.1" x2="119.1" y2="714.1" stroke="#0b0b0b" stroke-width="1.89" stroke-linecap="round"/><line x1="119.1" y1="714.1" x2="106.8" y2="721.8" stroke="#0b0b0b" stroke-width="1.89" stroke-linecap="round"/><line x1="106.8" y1="721.8" x2="116.8" y2="723.8" stroke="#0b0b0b" stroke-width="1.89" stroke-linecap="round"/><line x1="106.8" y1="721.8" x2="114.5" y2="733.4" stroke="#0b0b0b" stroke-width="1.89" stroke-linecap="round"/><line x1="105.2" y1="731.4" x2="114.5" y2="733.4" stroke="#0b0b0b" stroke-width="1.89" stroke-linecap="round"/><line x1="114.5" y1="733.4" x2="103.6" y2="741.0" stroke="#0b0b0b" stroke-width="1.89" stroke-linecap="round"/><line x1="103.6" y1="741.0" x2="112.2" y2="743.0" stroke="#0b0b0b" stroke-width="1.89" stroke-linecap="round"/><polyline points="130.6,666.0 109.8,753.0" fill="none" stroke="#0b0b0b" stroke-width="2.61" stroke-linejoin="round" stroke-linecap="round"/><polyline points="144.4,671.0 117.2,753.0" fill="none" stroke="#0b0b0b" stroke-width="2.61" stroke-linejoin="round" stroke-linecap="round"/><line x1="144.4" y1="671.0" x2="128.3" y2="675.7" stroke="#0b0b0b" stroke-width="1.89" stroke-linecap="round"/><line x1="128.3" y1="675.7" x2="141.4" y2="680.1" stroke="#0b0b0b" stroke-width="1.89" stroke-linecap="round"/><line x1="128.3" y1="675.7" x2="138.4" y2="689.2" stroke="#0b0b0b" stroke-width="1.89" stroke-linecap="round"/><line x1="126.0" y1="685.3" x2="138.4" y2="689.2" stroke="#0b0b0b" stroke-width="1.89" stroke-linecap="round"/><line x1="138.4" y1="689.2" x2="123.7" y2="695.0" stroke="#0b0b0b" stroke-width="1.89" stroke-linecap="round"/><line x1="123.7" y1="695.0" x2="135.3" y2="698.3" stroke="#0b0b0b" stroke-width="1.89" stroke-linecap="round"/><line x1="123.7" y1="695.0" x2="132.3" y2="707.4" stroke="#0b0b0b" stroke-width="1.89" stroke-linecap="round"/><line x1="121.4" y1="704.7" x2="132.3" y2="707.4" stroke="#0b0b0b" stroke-width="1.89" stroke-linecap="round"/><line x1="132.3" y1="707.4" x2="119.0" y2="714.3" stroke="#0b0b0b" stroke-width="1.89" stroke-linecap="round"/><line x1="119.0" y1="714.3" x2="129.3" y2="716.6" stroke="#0b0b0b" stroke-width="1.89" stroke-linecap="round"/><line x1="119.0" y1="714.3" x2="126.3" y2="725.7" stroke="#0b0b0b" stroke-width="1.89" stroke-linecap="round"/><line x1="116.7" y1="724.0" x2="126.3" y2="725.7" stroke="#0b0b0b" stroke-width="1.89" stroke-linecap="round"/><line x1="126.3" y1="725.7" x2="114.4" y2="733.7" stroke="#0b0b0b" stroke-width="1.89" stroke-linecap="round"/><line x1="114.4" y1="733.7" x2="123.2" y2="734.8" stroke="#0b0b0b" stroke-width="1.89" stroke-linecap="round"/><line x1="114.4" y1="733.7" x2="120.2" y2="743.9" stroke="#0b0b0b" stroke-width="1.89" stroke-linecap="round"/><line x1="112.1" y1="743.3" x2="120.2" y2="743.9" stroke="#0b0b0b" stroke-width="1.89" stroke-linecap="round"/><line x1="120.2" y1="743.9" x2="109.8" y2="753.0" stroke="#0b0b0b" stroke-width="1.89" stroke-linecap="round"/><line x1="109.8" y1="753.0" x2="117.2" y2="753.0" stroke="#0b0b0b" stroke-width="1.89" stroke-linecap="round"/><polyline points="144.4,671.0 117.2,753.0" fill="none" stroke="#0b0b0b" stroke-width="2.90" stroke-linejoin="round" stroke-linecap="round"/><polyline points="173.8,664.0 190.8,753.0" fill="none" stroke="#0b0b0b" stroke-width="3.04" stroke-linejoin="round" stroke-linecap="round"/><polyline points="161.0,666.0 183.4,753.0" fill="none" stroke="#0b0b0b" stroke-width="3.04" stroke-linejoin="round" stroke-linecap="round"/><line x1="173.8" y1="664.0" x2="163.5" y2="675.7" stroke="#0b0b0b" stroke-width="1.89" stroke-linecap="round"/><line x1="175.7" y1="673.9" x2="163.5" y2="675.7" stroke="#0b0b0b" stroke-width="1.89" stroke-linecap="round"/><line x1="163.5" y1="675.7" x2="177.6" y2="683.8" stroke="#0b0b0b" stroke-width="1.89" stroke-linecap="round"/><line x1="177.6" y1="683.8" x2="166.0" y2="685.3" stroke="#0b0b0b" stroke-width="1.89" stroke-linecap="round"/><line x1="177.6" y1="683.8" x2="168.5" y2="695.0" stroke="#0b0b0b" stroke-width="1.89" stroke-linecap="round"/><line x1="179.5" y1="693.7" x2="168.5" y2="695.0" stroke="#0b0b0b" stroke-width="1.89" stroke-linecap="round"/><line x1="168.5" y1="695.0" x2="181.4" y2="703.6" stroke="#0b0b0b" stroke-width="1.89" stroke-linecap="round"/><line x1="181.4" y1="703.6" x2="171.0" y2="704.7" stroke="#0b0b0b" stroke-width="1.89" stroke-linecap="round"/><line x1="181.4" y1="703.6" x2="173.4" y2="714.3" stroke="#0b0b0b" stroke-width="1.89" stroke-linecap="round"/><line x1="183.2" y1="713.4" x2="173.4" y2="714.3" stroke="#0b0b0b" stroke-width="1.89" stroke-linecap="round"/><line x1="173.4" y1="714.3" x2="185.1" y2="723.3" stroke="#0b0b0b" stroke-width="1.89" stroke-linecap="round"/><line x1="185.1" y1="723.3" x2="175.9" y2="724.0" stroke="#0b0b0b" stroke-width="1.89" stroke-linecap="round"/><line x1="185.1" y1="723.3" x2="178.4" y2="733.7" stroke="#0b0b0b" stroke-width="1.89" stroke-linecap="round"/><line x1="187.0" y1="733.2" x2="178.4" y2="733.7" stroke="#0b0b0b" stroke-width="1.89" stroke-linecap="round"/><line x1="178.4" y1="733.7" x2="188.9" y2="743.1" stroke="#0b0b0b" stroke-width="1.89" stroke-linecap="round"/><line x1="188.9" y1="743.1" x2="180.9" y2="743.3" stroke="#0b0b0b" stroke-width="1.89" stroke-linecap="round"/><line x1="188.9" y1="743.1" x2="183.4" y2="753.0" stroke="#0b0b0b" stroke-width="1.89" stroke-linecap="round"/><line x1="190.8" y1="753.0" x2="183.4" y2="753.0" stroke="#0b0b0b" stroke-width="1.89" stroke-linecap="round"/><polyline points="161.0,666.0 181.0,743.0" fill="none" stroke="#0b0b0b" stroke-width="2.61" stroke-linejoin="round" stroke-linecap="round"/><polyline points="148.0,671.0 176.4,741.0" fill="none" stroke="#0b0b0b" stroke-width="2.61" stroke-linejoin="round" stroke-linecap="round"/><line x1="148.0" y1="671.0" x2="163.5" y2="675.6" stroke="#0b0b0b" stroke-width="1.89" stroke-linecap="round"/><line x1="163.5" y1="675.6" x2="151.6" y2="679.8" stroke="#0b0b0b" stroke-width="1.89" stroke-linecap="round"/><line x1="163.5" y1="675.6" x2="155.1" y2="688.5" stroke="#0b0b0b" stroke-width="1.89" stroke-linecap="round"/><line x1="166.0" y1="685.2" x2="155.1" y2="688.5" stroke="#0b0b0b" stroke-width="1.89" stroke-linecap="round"/><line x1="155.1" y1="688.5" x2="168.5" y2="694.9" stroke="#0b0b0b" stroke-width="1.89" stroke-linecap="round"/><line x1="168.5" y1="694.9" x2="158.7" y2="697.2" stroke="#0b0b0b" stroke-width="1.89" stroke-linecap="round"/><line x1="168.5" y1="694.9" x2="162.2" y2="706.0" stroke="#0b0b0b" stroke-width="1.89" stroke-linecap="round"/><line x1="171.0" y1="704.5" x2="162.2" y2="706.0" stroke="#0b0b0b" stroke-width="1.89" stroke-linecap="round"/><line x1="162.2" y1="706.0" x2="173.5" y2="714.1" stroke="#0b0b0b" stroke-width="1.89" stroke-linecap="round"/><line x1="173.5" y1="714.1" x2="165.8" y2="714.8" stroke="#0b0b0b" stroke-width="1.89" stroke-linecap="round"/><line x1="173.5" y1="714.1" x2="169.3" y2="723.5" stroke="#0b0b0b" stroke-width="1.89" stroke-linecap="round"/><line x1="176.0" y1="723.8" x2="169.3" y2="723.5" stroke="#0b0b0b" stroke-width="1.89" stroke-linecap="round"/><line x1="169.3" y1="723.5" x2="178.5" y2="733.4" stroke="#0b0b0b" stroke-width="1.89" stroke-linecap="round"/><line x1="178.5" y1="733.4" x2="172.9" y2="732.2" stroke="#0b0b0b" stroke-width="1.89" stroke-linecap="round"/><line x1="178.5" y1="733.4" x2="176.4" y2="741.0" stroke="#0b0b0b" stroke-width="1.89" stroke-linecap="round"/><line x1="181.0" y1="743.0" x2="176.4" y2="741.0" stroke="#0b0b0b" stroke-width="1.89" stroke-linecap="round"/><polyline points="148.0,671.0 176.4,741.0" fill="none" stroke="#0b0b0b" stroke-width="2.90" stroke-linejoin="round" stroke-linecap="round"/><rect x="94.6" y="737.6" width="14.2" height="8.2" rx="0.8" fill="#9b9b9b" stroke="#0b0b0b" stroke-width="1"/><rect x="95.19999999999999" y="737.9" width="13.0" height="2.6" fill="#222"/><line x1="96.1" y1="743.2" x2="107.3" y2="743.2" stroke="#d8d8d8" stroke-width="1"/><rect x="100.8" y="753" width="19.6" height="9.6" rx="0.8" fill="#9b9b9b" stroke="#0b0b0b" stroke-width="1"/><rect x="101.39999999999999" y="753.3" width="18.4" height="3.1" fill="#222"/><line x1="102.3" y1="759.5" x2="118.9" y2="759.5" stroke="#d8d8d8" stroke-width="1"/><rect x="167.8" y="737.4" width="16.4" height="7.8" rx="0.8" fill="#9b9b9b" stroke="#0b0b0b" stroke-width="1"/><rect x="168.4" y="737.6999999999999" width="15.2" height="2.5" fill="#222"/><line x1="169.3" y1="742.7" x2="182.7" y2="742.7" stroke="#d8d8d8" stroke-width="1"/><rect x="178.2" y="753.2" width="20.2" height="8.8" rx="0.8" fill="#9b9b9b" stroke="#0b0b0b" stroke-width="1"/><rect x="178.79999999999998" y="753.5" width="19.0" height="2.8" fill="#222"/><line x1="179.7" y1="759.2" x2="196.9" y2="759.2" stroke="#d8d8d8" stroke-width="1"/></g>
<!-- battery -->

<defs>
<linearGradient id="batBody" x1="0" y1="0" x2="0" y2="1">
<stop offset="0" stop-color="#D4D4D7"/><stop offset="0.14" stop-color="#DEDEE1"/><stop offset="0.85" stop-color="#E0E0E3"/><stop offset="1" stop-color="#CDCDD0"/>
</linearGradient>
<linearGradient id="batLid" x1="0" y1="0" x2="0" y2="1">
<stop offset="0" stop-color="#E8E8EB"/><stop offset="0.55" stop-color="#E1E1E4"/><stop offset="0.62" stop-color="#D6D6D9"/><stop offset="1" stop-color="#D0D0D3"/>
</linearGradient>
</defs>
<!-- terminals -->
<rect x="359.5" y="832" width="8.4" height="2.4" rx="1" fill="#C98A8E"/>
<rect x="361.5" y="831.4" width="4" height="1.6" fill="#B0565E"/>
<!-- handle rope right -->
<path d="M489,858 C493.5,860 494.5,870 491.5,876.5" fill="none" stroke="#DCDCDF" stroke-width="1.4"/>
<!-- body -->
<rect x="348.2" y="843" width="141.4" height="55.4" rx="1.5" fill="url(#batBody)"/>
<!-- ribs at top of body -->
<g stroke="#CFCFD2" stroke-width="1.1">
<line x1="352.0" y1="845" x2="352.0" y2="851.5"/><line x1="358.4" y1="845" x2="358.4" y2="851.5"/><line x1="364.8" y1="845" x2="364.8" y2="851.5"/><line x1="371.2" y1="845" x2="371.2" y2="851.5"/><line x1="377.6" y1="845" x2="377.6" y2="851.5"/><line x1="384.0" y1="845" x2="384.0" y2="851.5"/><line x1="390.4" y1="845" x2="390.4" y2="851.5"/><line x1="396.8" y1="845" x2="396.8" y2="851.5"/><line x1="403.2" y1="845" x2="403.2" y2="851.5"/><line x1="409.6" y1="845" x2="409.6" y2="851.5"/><line x1="416.0" y1="845" x2="416.0" y2="851.5"/><line x1="422.4" y1="845" x2="422.4" y2="851.5"/><line x1="428.8" y1="845" x2="428.8" y2="851.5"/><line x1="435.2" y1="845" x2="435.2" y2="851.5"/><line x1="441.6" y1="845" x2="441.6" y2="851.5"/><line x1="448.0" y1="845" x2="448.0" y2="851.5"/><line x1="454.4" y1="845" x2="454.4" y2="851.5"/><line x1="460.8" y1="845" x2="460.8" y2="851.5"/><line x1="467.2" y1="845" x2="467.2" y2="851.5"/><line x1="473.6" y1="845" x2="473.6" y2="851.5"/><line x1="480.0" y1="845" x2="480.0" y2="851.5"/><line x1="486.4" y1="845" x2="486.4" y2="851.5"/>
</g>
<!-- lid -->
<rect x="346" y="833.4" width="145.8" height="11.2" rx="1.6" fill="url(#batLid)"/>
<line x1="346.6" y1="844.4" x2="491.2" y2="844.4" stroke="#C6C6C9" stroke-width="0.8"/>
<!-- left label -->
<circle cx="379.7" cy="857.6" r="2.6" fill="#15151a"/>
<circle cx="380.7" cy="857" r="1.3" fill="#E3E3E6"/>
<text x="383.8" y="859.4" font-family="Liberation Serif, serif" font-weight="bold" font-size="4.6" fill="#2a2a30" textLength="22.6" lengthAdjust="spacingAndGlyphs">Angza Solar</text>
<text x="381" y="866.4" font-family="Liberation Sans, sans-serif" font-weight="bold" font-size="4" fill="#3a3a5a" textLength="22.4" lengthAdjust="spacingAndGlyphs">JFM12-200</text>
<line x1="384" y1="868.6" x2="402" y2="868.6" stroke="#8a8a92" stroke-width="0.6" stroke-dasharray="2 0.5"/>
<line x1="385" y1="870.4" x2="401" y2="870.4" stroke="#8a8a92" stroke-width="0.6" stroke-dasharray="1.6 0.5"/>
<rect x="375.6" y="873" width="37.6" height="17.6" fill="#DADADD" stroke="#77777e" stroke-width="0.5"/>
<g stroke="#6d6d75" stroke-width="0.55">
<line x1="376" y1="875.6" x2="413" y2="875.6" stroke-dasharray="2.4 0.5"/>
<line x1="376" y1="877.8" x2="413" y2="877.8" stroke-dasharray="3 0.5"/>
<line x1="376" y1="880" x2="413" y2="880" stroke-dasharray="2 0.6"/>
<line x1="376" y1="882.2" x2="413" y2="882.2"/>
<line x1="377" y1="884.6" x2="405" y2="884.6" stroke-dasharray="2.6 0.5"/>
<line x1="377" y1="886.4" x2="403" y2="886.4" stroke-dasharray="2 0.5"/>
<line x1="377" y1="888.4" x2="398" y2="888.4" stroke-dasharray="2.6 0.5"/>
<line x1="391" y1="873" x2="391" y2="882.2"/>
</g>
<!-- right icons -->
<line x1="437" y1="856.6" x2="457" y2="856.6" stroke="#77777e" stroke-width="0.6" stroke-dasharray="1.8 0.5"/>
<g fill="none" stroke="#3a3a42" stroke-width="0.7">
<rect x="423.6" y="863" width="5.2" height="6" rx="0.6"/>
<line x1="422.4" y1="861.6" x2="430" y2="870.4"/><line x1="430" y1="861.6" x2="422.4" y2="870.4"/>
<circle cx="438.4" cy="866" r="3.6" stroke="#6a6a72"/>
<path d="M436.6,866.8 l1.8,-3 l1.8,3 z" stroke="#6a6a72" stroke-width="0.5"/>
</g>
<text x="424" y="873.6" font-family="Liberation Sans, sans-serif" font-weight="bold" font-size="2.6" fill="#333">Pb</text>
<text x="436.6" y="873.6" font-family="Liberation Sans, sans-serif" font-weight="bold" font-size="2.6" fill="#333">Pb</text>
<g fill="none" stroke="#15151a" stroke-width="1.15" stroke-linecap="round">
<path d="M452.2,863.2 a3.4,3.4 0 1 0 0,5.8"/>
<path d="M458.4,863.2 a3.4,3.4 0 1 0 0,5.8 M455.4,866.1 h2.6"/>
</g>
<g fill="#15151a">
<path d="M463.4,862.2 h1.8 v4.6 a1.1,1.1 0 0 0 2.2,0 v-4.6 h1.8 v4.8 a2.9,2.9 0 0 1 -5.8,0 z"/>
<path d="M469.6,863.8 h1.9 v4.6 h2.8 v1.7 h-4.7 z"/>
<path d="M461.6,863.4 l1.2,-0.4 l1.2,3 l-1.2,0.5 z"/>
</g>
<line x1="430.6" y1="876.4" x2="464" y2="876.4" stroke="#55555c" stroke-width="0.6" stroke-dasharray="2.4 0.5"/>
<line x1="430.6" y1="878.2" x2="456" y2="878.2" stroke="#55555c" stroke-width="0.6" stroke-dasharray="2 0.5"/>
<g fill="none" stroke="#3c3c44" stroke-width="0.6">
<path d="M430.6,884.6 l1.8,-3.2 l1.8,3.2 z"/><path d="M436.8,884.6 l1.8,-3.2 l1.8,3.2 z"/>
<circle cx="444.8" cy="883" r="1.7" fill="#3c3c44"/><circle cx="450.8" cy="883" r="1.7" fill="#3c3c44"/>
<circle cx="457" cy="883" r="1.7"/><circle cx="463" cy="883" r="1.7"/>
</g>
<line x1="430.6" y1="887.2" x2="465" y2="887.2" stroke="#6a6a72" stroke-width="0.6" stroke-dasharray="2.2 0.5"/>
<!-- washer -->

<defs>
<linearGradient id="wFront" x1="0" y1="0" x2="1" y2="1">
<stop offset="0" stop-color="#F4F4F6"/><stop offset="0.5" stop-color="#EEEEF1"/><stop offset="1" stop-color="#E2E2E6"/>
</linearGradient>
<linearGradient id="wSide" x1="0" y1="0" x2="1" y2="0">
<stop offset="0" stop-color="#96969B"/><stop offset="0.1" stop-color="#C2C2C6"/><stop offset="0.3" stop-color="#B2B2B6"/><stop offset="0.42" stop-color="#8E8E94"/><stop offset="0.5" stop-color="#BCBCC0"/><stop offset="0.68" stop-color="#ACACB1"/><stop offset="0.76" stop-color="#8C8C92"/><stop offset="0.85" stop-color="#B6B6BA"/><stop offset="1" stop-color="#A2A2A7"/>
</linearGradient>
<linearGradient id="wPanelL" x1="0" y1="0" x2="0" y2="1">
<stop offset="0" stop-color="#8D8F97"/><stop offset="0.5" stop-color="#A6A8AF"/><stop offset="1" stop-color="#C2C4CA"/>
</linearGradient>
<linearGradient id="wPanelM" x1="0" y1="0" x2="1" y2="0">
<stop offset="0" stop-color="#5E6572"/><stop offset="0.35" stop-color="#4A505E"/><stop offset="0.55" stop-color="#2C2F38"/><stop offset="1" stop-color="#1E2026"/>
</linearGradient>
<linearGradient id="wRing" x1="0" y1="0" x2="1" y2="1">
<stop offset="0" stop-color="#4E5463"/><stop offset="0.4" stop-color="#383D4B"/><stop offset="1" stop-color="#2D313E"/>
</linearGradient>
<linearGradient id="wRimS" x1="0" y1="0" x2="1" y2="1">
<stop offset="0" stop-color="#B9BCC4"/><stop offset="0.45" stop-color="#7A7F8A"/><stop offset="1" stop-color="#4A4E5A"/>
</linearGradient>
<linearGradient id="wRefl" x1="0" y1="0" x2="1" y2="0">
<stop offset="0" stop-color="#4A5470"/><stop offset="0.5" stop-color="#7E8DAE"/><stop offset="1" stop-color="#39405A"/>
</linearGradient>
<linearGradient id="wHandle" x1="0" y1="0" x2="1" y2="1">
<stop offset="0" stop-color="#585E6B"/><stop offset="0.45" stop-color="#868A94"/><stop offset="1" stop-color="#6A6E79"/>
</linearGradient>
<linearGradient id="wBlue" x1="1" y1="0" x2="0" y2="1">
<stop offset="0" stop-color="#364068"/><stop offset="0.45" stop-color="#4C64A6"/><stop offset="0.8" stop-color="#7C98D6"/><stop offset="1" stop-color="#5F7CC2"/>
</linearGradient>
<radialGradient id="wDrum" cx="0.55" cy="0.45" r="0.6">
<stop offset="0" stop-color="#B9BABF"/><stop offset="0.5" stop-color="#85878E"/><stop offset="1" stop-color="#3F424A"/>
</radialGradient>
<clipPath id="wDrumClip"><ellipse cx="626.4" cy="835.4" rx="19.6" ry="20.2"/></clipPath>
</defs>
<!-- side -->
<polygon points="667.6,776 687.8,778 687.8,895.6 667.6,909" fill="url(#wSide)"/>
<polygon points="667.6,776 687.8,778 687.8,780.6 667.6,779" fill="#77777c"/>
<!-- front -->
<polygon points="581.5,776 667.8,776 667.8,909 581.5,902" fill="url(#wFront)"/>
<polygon points="581.5,776 583,776 583,902.2 581.5,902" fill="#CDCDD2"/>
<!-- base strip -->
<polygon points="581.5,889 667.8,895 667.8,909 581.5,902" fill="#E6E6EA"/>
<line x1="581.5" y1="889" x2="667.8" y2="895" stroke="#CBCBD0" stroke-width="0.8"/>
<line x1="581.5" y1="902" x2="667.8" y2="909" stroke="#B5B5BA" stroke-width="1"/>
<!-- control panel -->
<rect x="581.5" y="776" width="27" height="15.6" fill="url(#wPanelL)"/>
<rect x="608.2" y="776" width="59.6" height="15.6" fill="url(#wPanelM)"/>
<rect x="581.5" y="775.6" width="86.3" height="1.2" fill="#8f9096"/>
<rect x="586" y="783.6" width="18" height="5.4" rx="0.8" fill="#15161a"/>
<rect x="594" y="780" width="5" height="2" fill="#6e7fb0" opacity="0.7"/>
<rect x="616" y="778.6" width="12" height="5.2" rx="0.5" fill="#C08C22"/>
<rect x="616.9" y="779.4" width="10.2" height="3.6" fill="#F5BC22"/>
<g stroke="#8d95a4" stroke-width="0.7">
<line x1="613.5" y1="786" x2="628" y2="786" stroke-dasharray="2 0.8"/>
<line x1="613.5" y1="788.4" x2="628" y2="788.4" stroke-dasharray="2.6 0.8"/>
</g>
<circle cx="634.6" cy="789.4" r="1.3" fill="#DDE0E6"/>
<circle cx="646" cy="782.8" r="4.1" fill="#C4C6CC" stroke="#3a3c44" stroke-width="0.8"/>
<circle cx="646" cy="782.8" r="2.2" fill="#9ea1a9"/>
<circle cx="657.6" cy="783.6" r="2" fill="#C4C6CC"/>
<g fill="#9aa0ad"><circle cx="637.5" cy="779.4" r="0.45"/><circle cx="637.5" cy="782" r="0.45"/><circle cx="637.5" cy="784.6" r="0.45"/><circle cx="653.5" cy="779.2" r="0.45"/><circle cx="654.6" cy="786.4" r="0.45"/></g>
<!-- door shadow -->
<ellipse cx="628.6" cy="839.4" rx="39.4" ry="40.6" fill="#CFD0D6" opacity="0.75"/>
<!-- door outer ring -->
<ellipse cx="625.6" cy="836.4" rx="38.6" ry="39.9" fill="url(#wRimS)"/>
<ellipse cx="626" cy="836.8" rx="37.2" ry="38.5" fill="url(#wRing)"/>
<!-- bottom-left reflection on ring -->
<path d="M600,864 A37.2,38.5 0 0 0 640,872.5 L636.5,862 A27,28 0 0 1 606,856 Z" fill="url(#wRefl)" opacity="0.85"/>
<!-- handle wedge (upper-right) -->
<path d="M629,800 C640,800 661,812 662.6,836 C662,846 659,852 656,857 C651,850 648,846 646.6,838 C646,824 640,816 630,812 Z" fill="url(#wHandle)"/>
<!-- blue crescent ring -->
<ellipse cx="624.6" cy="837.6" rx="26.2" ry="27.2" fill="url(#wBlue)"/>
<ellipse cx="626.4" cy="835.6" rx="21.4" ry="22" fill="#39415C"/>
<!-- drum -->
<ellipse cx="626.4" cy="835.4" rx="19.6" ry="20.2" fill="url(#wDrum)"/>
<g clip-path="url(#wDrumClip)">
<path d="M612,822 C620,814 636,814 644,822 L640,832 C632,824 622,824 614,832 Z" fill="#9A9CA3" opacity="0.9"/>
<path d="M610,834 l7,-12 l6,3 l-5,12 z" fill="#E4E5E9" opacity="0.95"/>
<path d="M609,840 l8,-3 l6,8 l-10,8 z" fill="#D6D7DC" opacity="0.9"/>
<path d="M617,836 C626,828 638,830 646,838 L644,842 C636,836 626,836 620,842 Z" fill="#2F3139" opacity="0.8"/>
<path d="M620,842 C628,836 640,838 646,846 L642,852 C636,846 628,846 622,852 Z" fill="#C9CACF" opacity="0.9"/>
<path d="M624,852 C630,848 638,848 642,854 L638,860 C634,856 630,856 626,860 Z" fill="#A9ABB2" opacity="0.9"/>
<ellipse cx="641" cy="831.6" rx="2.2" ry="3" fill="#F4F4F7"/>
<path d="M608,846 C614,856 628,860 642,854 L640,860 L608,860 Z" fill="#44474F" opacity="0.6"/>
</g>
<!-- small mark bottom right -->
<rect x="655" y="897.6" width="2.2" height="1.2" fill="#B5B5BB"/>
<!-- fridge -->

<defs>
<linearGradient id="fFrontT" x1="0" y1="0" x2="1" y2="0.6">
<stop offset="0" stop-color="#C9C9CC"/><stop offset="0.06" stop-color="#B3B3B6"/><stop offset="0.5" stop-color="#ABABAF"/><stop offset="1" stop-color="#97979B"/>
</linearGradient>
<linearGradient id="fFrontB" x1="0" y1="0" x2="1" y2="0.6">
<stop offset="0" stop-color="#C6C6C9"/><stop offset="0.06" stop-color="#ADADB1"/><stop offset="0.5" stop-color="#A5A5A9"/><stop offset="1" stop-color="#98989C"/>
</linearGradient>
<linearGradient id="fSide" x1="0" y1="0" x2="1" y2="0">
<stop offset="0" stop-color="#8C8C90"/><stop offset="0.15" stop-color="#A0A0A4"/><stop offset="0.8" stop-color="#A9A9AD"/><stop offset="1" stop-color="#BEBEC1"/>
</linearGradient>
</defs>
<!-- side -->
<polygon points="711.4,736.6 725.6,727.2 725.6,907.2 711.4,900.6" fill="url(#fSide)"/>
<!-- top face sliver -->
<polygon points="711.4,736.6 725.6,727.2 783.2,727.4 783.2,728.6 726.4,728.6 712.4,737.4" fill="#D6D6D9"/>
<!-- front upper door -->
<rect x="725.6" y="727.4" width="57.6" height="85.6" fill="url(#fFrontT)"/>
<!-- front lower door -->
<rect x="725.6" y="820.6" width="57.6" height="86.6" fill="url(#fFrontB)"/>
<!-- sheen on upper door -->
<polygon points="725.6,727.4 752,727.4 725.6,790" fill="#FFFFFF" opacity="0.10"/>
<polygon points="725.6,820.6 746,820.6 725.6,870" fill="#FFFFFF" opacity="0.08"/>
<!-- door outlines -->
<rect x="726.2" y="728" width="56.4" height="84.4" fill="none" stroke="#8A8A8E" stroke-width="0.6" opacity="0.7"/>
<rect x="726.2" y="821.2" width="56.4" height="85.4" fill="none" stroke="#8A8A8E" stroke-width="0.6" opacity="0.7"/>
<rect x="725.6" y="727.4" width="57.6" height="1.2" fill="#CFCFD2"/>
<!-- highlight edge on left of front -->
<rect x="725.6" y="727.4" width="2.4" height="179.8" fill="#DCDCDF" opacity="0.9"/>
<rect x="782" y="727.4" width="1.2" height="179.8" fill="#C6C6C9" opacity="0.8"/>
<!-- divider -->
<rect x="722.8" y="812.2" width="60.4" height="9.6" fill="#3a3a3e"/>
<rect x="731" y="813.4" width="45" height="2.8" fill="#1c1c1f"/>
<rect x="731" y="816.6" width="45" height="1.0" fill="#8e8e92"/>
<rect x="731" y="818.4" width="45" height="2.4" fill="#2a2a2d"/>
<g fill="#2a2a2d"><rect x="722.8" y="812.4" width="7.6" height="4"/><rect x="722.8" y="817.6" width="7.6" height="4"/><rect x="776" y="812.4" width="7.2" height="4"/><rect x="776" y="817.6" width="7.2" height="4"/></g>
<g fill="#B5B5B9"><circle cx="725.4" cy="814.4" r="0.7"/><circle cx="728" cy="814.4" r="0.7"/><circle cx="725.4" cy="819.6" r="0.7"/><circle cx="728" cy="819.6" r="0.7"/>
<circle cx="778.4" cy="814.4" r="0.7"/><circle cx="781" cy="814.4" r="0.7"/><circle cx="778.4" cy="819.6" r="0.7"/><circle cx="781" cy="819.6" r="0.7"/></g>
<rect x="722.8" y="816.5" width="60.4" height="0.9" fill="#77777b"/>
<!-- brand -->
<rect x="750.6" y="740.4" width="9" height="1.8" fill="#2f2f33"/>
<!-- feet -->
<rect x="724" y="907" width="3" height="1.6" fill="#555"/>
<rect x="776.6" y="907" width="3.4" height="2" fill="#333"/>
<!-- tv -->

<defs>
<linearGradient id="tvG" gradientUnits="userSpaceOnUse" x1="813" y1="782" x2="930" y2="850">
<stop offset="0" stop-color="#2E3136"/><stop offset="0.25" stop-color="#3B3F45"/><stop offset="0.62" stop-color="#2A2C32"/><stop offset="0.66" stop-color="#0F0B10"/><stop offset="1" stop-color="#0B070B"/>
</linearGradient>
<linearGradient id="tvFade" x1="0" y1="0" x2="0" y2="1">
<stop offset="0" stop-color="#0B070B" stop-opacity="0"/><stop offset="0.6" stop-color="#0B070B" stop-opacity="0.3"/><stop offset="1" stop-color="#0B070B" stop-opacity="0.55"/>
</linearGradient>
<radialGradient id="spk" cx="0.65" cy="0.45" r="0.7">
<stop offset="0" stop-color="#55595e"/><stop offset="0.5" stop-color="#2a2c30"/><stop offset="1" stop-color="#060406"/>
</radialGradient>
</defs>
<rect x="813.5" y="782" width="233" height="119.2" fill="#0B070B"/>
<polygon points="813.5,782 908,782 868,901.2 813.5,901.2" fill="url(#tvG)"/>
<rect x="813.5" y="782" width="100" height="119.2" fill="url(#tvFade)"/>
<rect x="813.5" y="782" width="233" height="1.4" fill="#050305"/>
<!-- speakers -->
<circle cx="820.6" cy="820" r="7" fill="url(#spk)"/>
<circle cx="820.6" cy="861.6" r="7" fill="url(#spk)"/>
<circle cx="822.6" cy="840.6" r="2.6" fill="#1a1a1e"/>
<!-- right notches -->
<path d="M1046.6,816.5 l-2.4,3 l-1.6,6 l4,-2.6 z" fill="#EDEDEF"/>
<path d="M1046.6,858 l-2,4 l-1.4,6 l3.4,-2 z" fill="#4a4a4e"/>
<path d="M1046.6,880 l-1.4,2.4 v5 l1.4,0.8 z" fill="#EDEDEF"/>
<circle cx="1039" cy="838" r="2.6" fill="#1c1a1e"/>
<!-- stand -->
<path d="M902,901 L958,901 L957.6,903.4 L952,904.6 L957,906 L955.4,908.6 L950.4,909.2 L952,905 L926,903.2 L905.6,905.2 L902,903.8 Z" fill="#0a0a0c"/>
<!-- monitor -->

<defs>
<linearGradient id="chin" x1="0" y1="0" x2="1" y2="0">
<stop offset="0" stop-color="#B4B3B4"/><stop offset="0.15" stop-color="#A9A8A9"/><stop offset="0.5" stop-color="#D9D8D9"/><stop offset="1" stop-color="#CFCECF"/>
</linearGradient>
<linearGradient id="bezelTop" x1="0" y1="0" x2="1" y2="0">
<stop offset="0" stop-color="#9a9a9a"/><stop offset="0.53" stop-color="#6e6e6e"/><stop offset="0.56" stop-color="#000"/><stop offset="1" stop-color="#000"/>
</linearGradient>
<linearGradient id="scr" x1="0" y1="0" x2="1" y2="0">
<stop offset="0" stop-color="#B4C6FB"/><stop offset="0.5" stop-color="#BDCDFD"/><stop offset="1" stop-color="#B7C7FA"/>
</linearGradient>
</defs>
<rect x="808.7" y="252.6" width="100" height="69" rx="2.5" fill="url(#chin)"/>
<rect x="808.7" y="252.6" width="100" height="59.8" rx="2.5" fill="#05050a"/>
<rect x="810" y="253" width="97" height="3.6" rx="1.5" fill="url(#bezelTop)"/>
<rect x="811.9" y="256.8" width="93.2" height="52.2" fill="url(#scr)"/>
<polygon points="848.5,321.5 869.2,321.5 868.6,327.4 849.1,327.4" fill="#EDECED"/>
<polygon points="848.6,327.2 869.1,327.2 872.4,331.8 845.2,331.8" fill="#B9B8B9"/>
<!-- cloud -->
<circle cx="821.6" cy="496.8" r="26.0" fill="#66A9E6"/><circle cx="857.6" cy="476.0" r="24.6" fill="#66A9E6"/><circle cx="888.2" cy="492.0" r="21.4" fill="#66A9E6"/><circle cx="905.9" cy="503.5" r="15.7" fill="#66A9E6"/><circle cx="828" cy="506.5" r="18" fill="#66A9E6"/><circle cx="856.6" cy="510.6" r="15.2" fill="#66A9E6"/><circle cx="882" cy="507.5" r="16.6" fill="#66A9E6"/><circle cx="845" cy="495" r="22" fill="#66A9E6"/><circle cx="870" cy="498" r="22" fill="#66A9E6"/><text x="808.8" y="508.4" font-size="36" font-family="Liberation Serif, serif" font-style="italic" font-weight="bold" fill="#1B2230" textLength="84.6" lengthAdjust="spacingAndGlyphs">cloud</text>
<!-- labels -->
<text x="455.6" y="138.6" font-size="41" font-family="Liberation Serif, serif" font-style="italic" fill="#1f1f1f" stroke="#1f1f1f" stroke-linejoin="round" lengthAdjust="spacingAndGlyphs" stroke-width="1.1" textLength="196">Solar Panel</text>
<text x="392.6" y="671.4" font-size="40.2" font-family="Liberation Serif, serif" font-style="italic" fill="#1f1f1f" stroke="#1f1f1f" stroke-linejoin="round" lengthAdjust="spacingAndGlyphs" stroke-width="1.1" textLength="138">Inverter</text>
<text x="46.6" y="794" font-size="40.6" font-family="Liberation Serif, serif" font-style="italic" fill="#1f1f1f" stroke="#1f1f1f" stroke-linejoin="round" lengthAdjust="spacingAndGlyphs" stroke-width="1.05" word-spacing="5.5">Power Grid</text>
<text x="229" y="880.2" font-size="34.4" font-family="Liberation Serif, serif" font-style="italic" fill="#1f1f1f" stroke="#1f1f1f" stroke-linejoin="round" lengthAdjust="spacingAndGlyphs" stroke-width="1.0" textLength="113.4">Battery</text>

</svg>
</body></html>
